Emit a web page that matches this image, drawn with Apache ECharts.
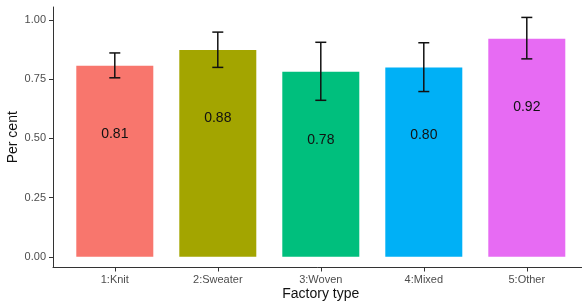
<!DOCTYPE html>
<html>
<head>
<meta charset="utf-8">
<script src="https://cdn.jsdelivr.net/npm/echarts@6/dist/echarts.min.js"></script>
<style>
  html, body { margin: 0; padding: 0; background: #fff; }
  #main { width: 582px; height: 302px; }
</style>
</head>
<body>
<div id="main"></div>
<script>
// factory types and mean share, with error bar bounds
const factoryTypes = ['1:Knit', '2:Sweater', '3:Woven', '4:Mixed', '5:Other'];
const meanValues = [0.807, 0.873, 0.782, 0.800, 0.921];
const lowValues = [0.756, 0.800, 0.661, 0.698, 0.836];
const highValues = [0.861, 0.949, 0.906, 0.904, 1.011];
const valueLabels = ['0.81', '0.88', '0.78', '0.80', '0.92'];
const barColors = ['#F8766D', '#A3A500', '#00BF7D', '#00B0F6', '#E76BF3'];
const yTicks = [0, 0.25, 0.5, 0.75, 1];
const xTicks = [1, 2, 3, 4, 5];

const font = 'Liberation Sans, Arial, sans-serif';

const barData = meanValues.map((v, i) => ({
  value: [i + 1, v],
  itemStyle: { color: barColors[i] },
  label: { formatter: valueLabels[i] }
}));
const errData = meanValues.map((v, i) => [i + 1, lowValues[i], highValues[i]]);

function renderErr(params, api) {
  const x = api.value(0);
  const lo = api.coord([x, api.value(1)]);
  const hi = api.coord([x, api.value(2)]);
  const half = 5.5;
  const style = { stroke: '#111', lineWidth: 1.5 };
  return {
    type: 'group',
    children: [
      { type: 'line', shape: { x1: lo[0], y1: lo[1], x2: hi[0], y2: hi[1] }, style: style },
      { type: 'line', shape: { x1: hi[0] - half, y1: hi[1], x2: hi[0] + half, y2: hi[1] }, style: style },
      { type: 'line', shape: { x1: lo[0] - half, y1: lo[1], x2: lo[0] + half, y2: lo[1] }, style: style }
    ]
  };
}

const option = {
  backgroundColor: '#fff',
  animation: false,
  grid: { left: 53, top: 7, width: 535.6, bottom: 34.5, containLabel: false, outerBoundsMode: 'none' },
  xAxis: {
    type: 'value',
    min: 0.4,
    max: 5.6,
    name: 'Factory type',
    nameLocation: 'middle',
    nameGap: 20,
    nameMoveOverlap: false,
    nameTextStyle: { color: '#111', fontSize: 14, fontFamily: font },
    axisLine: { show: true, onZero: false, lineStyle: { color: '#333', width: 1 } },
    axisTick: { show: true, length: 4, customValues: xTicks, lineStyle: { color: '#333' } },
    axisLabel: {
      customValues: xTicks,
      formatter: v => factoryTypes[Math.round(v) - 1],
      color: '#4d4d4d', fontSize: 11, fontFamily: font, margin: 7
    },
    splitLine: { show: false }
  },
  yAxis: {
    type: 'value',
    min: -0.045,
    max: 1.055,
    name: 'Per cent',
    nameLocation: 'middle',
    nameGap: 33,
    nameMoveOverlap: false,
    nameTextStyle: { color: '#111', fontSize: 14, fontFamily: font },
    axisLine: { show: true, lineStyle: { color: '#333', width: 1 } },
    axisTick: { show: true, length: 4, customValues: yTicks, lineStyle: { color: '#333' } },
    axisLabel: {
      customValues: yTicks,
      formatter: v => v.toFixed(2),
      color: '#4d4d4d', fontSize: 11, fontFamily: font, margin: 7
    },
    splitLine: { show: false }
  },
  series: [
    {
      type: 'bar',
      data: barData,
      barWidth: 77,
      label: {
        show: true,
        position: 'insideTop',
        distance: 61,
        color: '#111',
        fontSize: 14,
        fontFamily: font
      }
    },
    {
      type: 'custom',
      renderItem: renderErr,
      data: errData,
      z: 10,
      clip: false
    }
  ]
};

const chart = echarts.init(document.getElementById('main'));
chart.setOption(option);
window.addEventListener('resize', function () { chart.resize(); });
</script>
</body>
</html>
